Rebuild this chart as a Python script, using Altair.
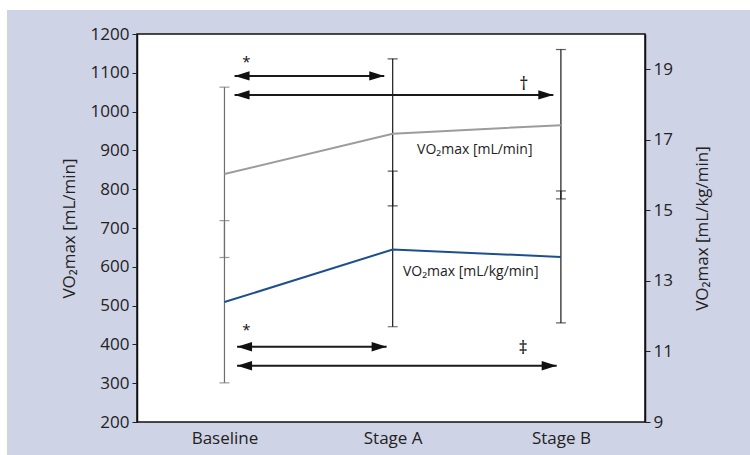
import altair as alt
import pandas as pd

# ---- data ----
stages = ["Baseline", "Stage A", "Stage B"]
stage_pos = [0, 1, 2]

# VO2max [mL/min] (left axis)
ml_min_mean = [839, 943, 965]
ml_min_low = [624, 757, 775]
ml_min_high = [1063, 1136, 1160]

# VO2max [mL/kg/min] (right axis)
ml_kg_mean = [12.40, 13.89, 13.68]
ml_kg_low = [10.11, 11.70, 11.81]
ml_kg_high = [14.71, 16.11, 15.55]

# significance arrows (left-axis units)
arrow_start = [0.06, 0.06, 0.075, 0.075]
arrow_end = [0.95, 1.955, 0.964, 1.975]
arrow_y = [1092, 1043, 394, 345]

# significance marks
mark_text = ["*", "\u2020", "*", "\u2021"]
mark_x = [0.13, 1.78, 0.13, 1.775]
mark_y = [1128, 1068, 437, 388]
mark_size = [15, 18, 15, 18]

# series labels
label_text = ["VO\u2082max [mL/min]", "VO\u2082max [mL/kg/min]"]
label_x = [1.145, 1.061]
label_y = [901, 587]

left_ticks = list(range(200, 1201, 100))
right_ticks = [9, 11, 13, 15, 17, 19]

FONT = "Open Sans"
LAV = "#cfd3e6"

df = pd.DataFrame({
    "x": stage_pos, "stage": stages,
    "g_mean": ml_min_mean, "g_lo": ml_min_low, "g_hi": ml_min_high,
    "b_mean": ml_kg_mean, "b_lo": ml_kg_low, "b_hi": ml_kg_high,
})
arrows = pd.DataFrame({"x0": arrow_start, "x1": arrow_end, "y": arrow_y})
marks = pd.DataFrame({"x": mark_x, "y": mark_y, "t": mark_text, "s": mark_size})
labels = pd.DataFrame({"x": label_x, "y": label_y, "t": label_text})

label_expr = "[" + ",".join("'" + s + "'" for s in stages) + "][datum.value]"
xscale = alt.Scale(domain=[-0.52, 2.5], nice=False, zero=False)
xaxis = alt.Axis(values=stage_pos, labelExpr=label_expr, ticks=False, domain=False,
                 grid=False, title=None, labelFontSize=17, labelPadding=8,
                 labelFont=FONT, labelColor="#222")

yl_scale = alt.Scale(domain=[200, 1200], nice=False, zero=False)
yl_axis = alt.Axis(values=left_ticks, format="d", title="VO\u2082max [mL/min]", grid=False,
                   tickSize=5, tickColor="#222", domainColor="#111", domainWidth=1.5,
                   labelFontSize=17, labelFont=FONT, labelColor="#222", labelPadding=3,
                   titleFont=FONT, titleFontSize=17, titleFontWeight="normal",
                   titleColor="#222", titlePadding=12)
yr_scale = alt.Scale(domain=[9, 20], nice=False, zero=False)
yr_axis = alt.Axis(values=right_ticks, orient="right", title="VO\u2082max [mL/kg/min]",
                   grid=False, tickSize=5, tickColor="#222", domainColor="#111",
                   domainWidth=1.5, labelFontSize=17, labelFont=FONT, labelColor="#222",
                   labelPadding=3, titleFont=FONT, titleFontSize=17, titleAngle=270,
                   titleBaseline="top",
                   titleFontWeight="normal", titleColor="#222", titlePadding=22)


def X(field):
    return alt.X(field, type="quantitative", scale=xscale, axis=xaxis)


def YL(field):
    return alt.Y(field, type="quantitative", scale=yl_scale, axis=yl_axis)


def YR(field):
    return alt.Y(field, type="quantitative", scale=yr_scale, axis=yr_axis)


bar_color = alt.condition(alt.datum.x == 0, alt.value("#6e6e6e"), alt.value("#1a1a1a"))

base = alt.Chart(df)

# decorative white strips at the top-left of the page
strip_top = alt.Chart(df).mark_rect(color="white").encode(
    x=alt.value(-137), x2=alt.value(613), y=alt.value(-34), y2=alt.value(-24))
strip_left = alt.Chart(df).mark_rect(color="white").encode(
    x=alt.value(-137), x2=alt.value(-130), y=alt.value(-34), y2=alt.value(421))

g_rule = base.mark_rule(strokeWidth=1.2).encode(x=X("x"), y=YL("g_lo"), y2="g_hi", color=bar_color)
g_cap_lo = base.mark_tick(orient="horizontal", size=10, thickness=1.2).encode(x=X("x"), y=YL("g_lo"), color=bar_color)
g_cap_hi = base.mark_tick(orient="horizontal", size=10, thickness=1.2).encode(x=X("x"), y=YL("g_hi"), color=bar_color)
g_line = base.mark_line(color="#9c9c9c", strokeWidth=2).encode(x=X("x"), y=YL("g_mean"))

a_rule = alt.Chart(arrows).mark_rule(color="#1a1a1a", strokeWidth=2).encode(
    x=X("x0"), x2="x1", y=YL("y"))
head_l = alt.Chart(arrows).mark_point(shape="M 0 0 L 2 -0.62 L 2 0.62 Z", size=225,
                                      filled=True, color="#111", opacity=1).encode(
    x=X("x0"), y=YL("y"))
head_r = alt.Chart(arrows).mark_point(shape="M 0 0 L -2 -0.62 L -2 0.62 Z", size=225,
                                      filled=True, color="#111", opacity=1).encode(
    x=X("x1"), y=YL("y"))

sig = alt.Chart(marks).mark_text(font=FONT, color="#111",
                                 align="center", baseline="middle").encode(
    x=X("x"), y=YL("y"), text="t",
    size=alt.Size("s", type="quantitative", scale=None, legend=None))
lab = alt.Chart(labels).mark_text(font=FONT, fontSize=14, color="#222",
                                  align="left", baseline="middle").encode(
    x=X("x"), y=YL("y"), text="t")

left = alt.layer(strip_top, strip_left, g_rule, g_cap_lo, g_cap_hi, g_line,
                 a_rule, head_l, head_r, sig, lab)

b_rule = base.mark_rule(strokeWidth=1.2).encode(x=X("x"), y=YR("b_lo"), y2="b_hi", color=bar_color)
b_cap_lo = base.mark_tick(orient="horizontal", size=10, thickness=1.2).encode(x=X("x"), y=YR("b_lo"), color=bar_color)
b_cap_hi = base.mark_tick(orient="horizontal", size=10, thickness=1.2).encode(x=X("x"), y=YR("b_hi"), color=bar_color)
b_line = base.mark_line(color="#1c4f8e", strokeWidth=2).encode(x=X("x"), y=YR("b_mean"))

right = alt.layer(b_rule, b_cap_lo, b_cap_hi, b_line)

chart = alt.layer(left, right).resolve_scale(y="independent").properties(
    width=508, height=388,
    autosize=alt.AutoSizeParams(type="none"),
    padding={"left": 137, "top": 34, "right": 105, "bottom": 33},
    background=LAV,
).configure_view(fill="white", stroke="#111", strokeWidth=1.5)

chart.save("out.html", embed_options={"renderer": "svg", "actions": False})
